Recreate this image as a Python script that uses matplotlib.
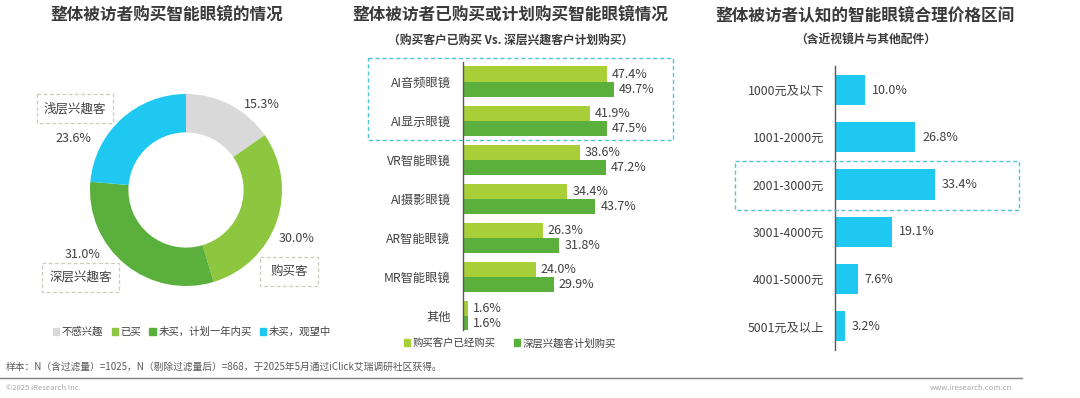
import matplotlib.pyplot as plt
from matplotlib.patches import Rectangle, Patch

plt.rcParams['font.family'] = ['Noto Sans CJK SC', 'DejaVu Sans']

# ---- data ----
donut_labels = ['不感兴趣', '已买', '未买，计划一年内买', '未买，观望中']
donut_values = [15.3, 30.0, 31.0, 23.6]
donut_colors = ['#D9D9D9', '#8DC63F', '#5BAF3C', '#1EC8F0']

glass_types = ['AI音频眼镜', 'AI显示眼镜', 'VR智能眼镜', 'AI摄影眼镜', 'AR智能眼镜', 'MR智能眼镜', '其他']
bought = [47.4, 41.9, 38.6, 34.4, 26.3, 24.0, 1.6]
plan = [49.7, 47.5, 47.2, 43.7, 31.8, 29.9, 1.6]

price_ranges = ['1000元及以下', '1001-2000元', '2001-3000元', '3001-4000元', '4001-5000元', '5001元及以上']
price_share = [10.0, 26.8, 33.4, 19.1, 7.6, 3.2]

W, H = 1080, 398
TXT = '#404040'
fig = plt.figure(figsize=(W / 100, H / 100), dpi=100)


def box(x0, y0, x1, y1):
    # pixel box (top-left origin) -> figure fraction rect
    return [x0 / W, 1 - y1 / H, (x1 - x0) / W, (y1 - y0) / H]


# overlay for titles, notes and dashed frames (pixel coords)
ov = fig.add_axes([0, 0, 1, 1], zorder=5)
ov.set_xlim(0, W)
ov.set_ylim(H, 0)
ov.axis('off')
ov.patch.set_alpha(0)

# ---- left: donut ----
ax1 = fig.add_axes(box(90, 94, 282, 286))
ax1.pie(donut_values, colors=donut_colors, startangle=90, counterclock=False,
        radius=1, wedgeprops=dict(width=0.4, edgecolor='none'))
ax1.set_xlim(-1, 1)
ax1.set_ylim(-1, 1)
ax1.set_aspect('equal')

pct_pos = [(262, 104), (297, 238), (83, 255), (73, 139)]
for v, (px, py) in zip(donut_values, pct_pos):
    ov.text(px, py, f'{v:.1f}%', ha='center', va='center', fontsize=9, color=TXT)

seg_boxes = [('浅层兴趣客', 37, 94, 113, 123), ('深层兴趣客', 42, 263, 119, 292), ('购买客', 260, 257, 318, 286)]
for name, x0, y0, x1, y1 in seg_boxes:
    ov.add_patch(Rectangle((x0, y0), x1 - x0, y1 - y0, fill=False, ec='#CFCBBF',
                           ls=(0, (3, 2)), lw=0.9))
    ov.text((x0 + x1) / 2, (y0 + y1) / 2, name, ha='center', va='center', fontsize=9, color=TXT)

h1 = [Patch(color=c) for c in donut_colors]
fig.legend(h1, donut_labels, loc='center', bbox_to_anchor=(192 / W, 1 - 332 / H), ncol=4,
           frameon=False, fontsize=7.5, handlelength=0.6, handleheight=0.6,
           handletextpad=0.25, columnspacing=0.8, labelcolor=TXT)

# ---- middle: grouped horizontal bars ----
ax2 = fig.add_axes(box(463, 62, 463 + 3.03 * 60, 330))
yy = list(range(len(glass_types)))
bh = 0.385
ax2.barh([y - bh / 2 for y in yy], bought, height=bh, color='#A8CF38')
ax2.barh([y + bh / 2 for y in yy], plan, height=bh, color='#5BAF3C')
for y, a, b in zip(yy, bought, plan):
    ax2.text(a + 1.7, y - bh / 2, f'{a:.1f}%', va='center', fontsize=9, color=TXT)
    ax2.text(b + 1.7, y + bh / 2, f'{b:.1f}%', va='center', fontsize=9, color=TXT)
ax2.set_xlim(0, 60)
ax2.set_ylim(6.35, -0.5)
ax2.set_yticks(yy)
ax2.set_yticklabels(glass_types, fontsize=8.8, color=TXT)
ax2.set_xticks([])
ax2.tick_params(axis='y', length=0, pad=9)
for s in ['top', 'right', 'bottom']:
    ax2.spines[s].set_visible(False)
ax2.spines['left'].set_color('#595959')
ax2.spines['left'].set_linewidth(1)
ax2.patch.set_alpha(0)

ov.add_patch(Rectangle((368, 58), 673 - 368, 140 - 58, fill=False, ec='#4FC3D8',
                       ls=(0, (3, 2)), lw=1))
h2 = [Patch(color='#A8CF38'), Patch(color='#5BAF3C')]
fig.legend(h2, ['购买客户已经购买', '深层兴趣客计划购买'], loc='center',
           bbox_to_anchor=(510 / W, 1 - 343 / H), ncol=2, frameon=False, fontsize=7.5,
           handlelength=0.6, handleheight=0.6, handletextpad=0.25, columnspacing=1.8,
           labelcolor=TXT)

# ---- right: price range bars ----
ax3 = fig.add_axes(box(835, 66.4, 835 + 3.0 * 60, 350))
yy3 = list(range(len(price_ranges)))
ax3.barh(yy3, price_share, height=0.64, color='#1EC8F0')
for y, v in zip(yy3, price_share):
    ax3.text(v + 2.3, y, f'{v:.1f}%', va='center', fontsize=9, color=TXT)
ax3.set_xlim(0, 60)
ax3.set_ylim(5.5, -0.5)
ax3.set_yticks(yy3)
ax3.set_yticklabels(price_ranges, fontsize=8.8, color=TXT)
ax3.set_xticks([])
ax3.tick_params(axis='y', length=0, pad=8)
for s in ['top', 'right', 'bottom']:
    ax3.spines[s].set_visible(False)
ax3.spines['left'].set_color('#595959')
ax3.spines['left'].set_linewidth(1)
ax3.patch.set_alpha(0)

ov.add_patch(Rectangle((735, 161), 1019 - 735, 210 - 161, fill=False, ec='#4FC3D8',
                       ls=(0, (3, 2)), lw=1))

# ---- titles ----
ov.text(167, 15, '整体被访者购买智能眼镜的情况', ha='center', va='center', fontsize=12,
        fontweight='bold', color='#3A3A3A')
ov.text(510, 15, '整体被访者已购买或计划购买智能眼镜情况', ha='center', va='center', fontsize=12,
        fontweight='bold', color='#3A3A3A')
ov.text(511, 40, '（购买客户已购买 Vs. 深层兴趣客户计划购买）', ha='center', va='center',
        fontsize=8.5, fontweight='bold', color='#3A3A3A')
ov.text(865, 15, '整体被访者认知的智能眼镜合理价格区间', ha='center', va='center', fontsize=12,
        fontweight='bold', color='#3A3A3A')
ov.text(866, 40, '（含近视镜片与其他配件）', ha='center', va='center', fontsize=8.5,
        fontweight='bold', color='#3A3A3A')

# ---- footer ----
ov.text(6, 367, '样本：N（含过滤量）=1025，N（剔除过滤量后）=868，于2025年5月通过iClick艾瑞调研社区获得。',
        ha='left', va='center', fontsize=7, color='#595959')
ov.plot([0, 1022], [378, 378], color='#808080', lw=1)
ov.text(6, 388, '©2025 iResearch Inc.', ha='left', va='center', fontsize=5.5, color='#A6A6A6')
ov.text(1012, 388, 'www.iresearch.com.cn', ha='right', va='center', fontsize=5.5, color='#A6A6A6')

fig.savefig('out.png', dpi=100)
